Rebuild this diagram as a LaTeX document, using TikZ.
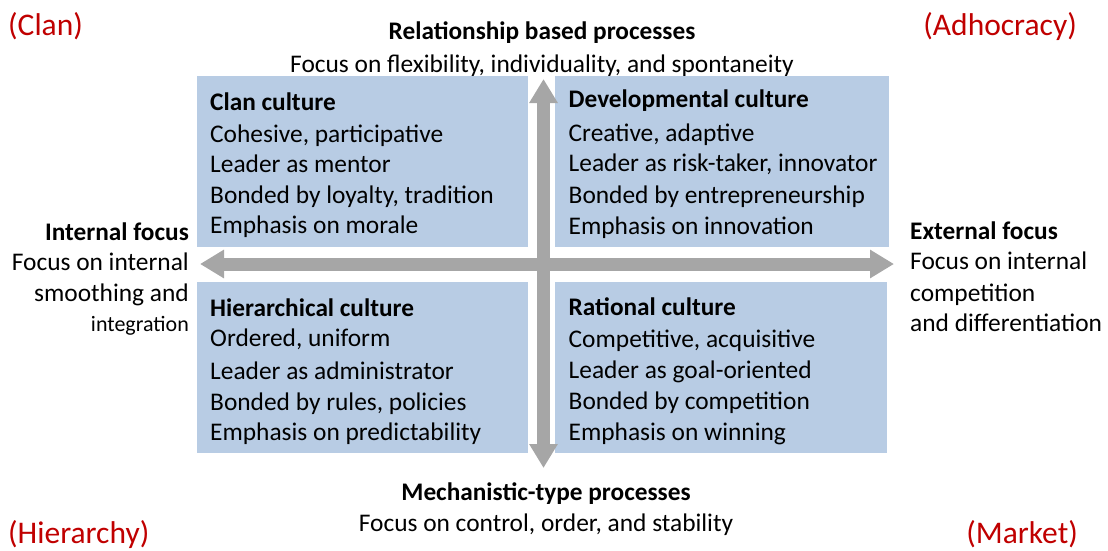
\documentclass[tikz,border=0pt]{standalone}
\usepackage{fontspec}
\setmainfont{Carlito}
\usetikzlibrary{arrows.meta}
\definecolor{boxblue}{RGB}{184,204,228}
\definecolor{arrowgray}{RGB}{166,166,166}
\definecolor{quadred}{RGB}{192,0,0}
\begin{document}
\begin{tikzpicture}[x=1pt,y=-1pt,
  txt/.style={inner sep=0pt, font=\fontsize{25.4}{30}\selectfont},
  ttl/.style={inner sep=0pt, font=\fontsize{25.3}{30}\selectfont\bfseries},
  small/.style={inner sep=0pt, font=\fontsize{22}{26}\selectfont},
  quad/.style={inner sep=0pt, text=quadred, font=\fontsize{31.5}{37}\selectfont},
  cbox/.style={fill=boxblue, draw=none, inner sep=0pt, anchor=north west, minimum height=171pt},
  axis/.style={draw=arrowgray, line width=13pt, {Triangle[width=27pt,length=24pt]}-{Triangle[width=27pt,length=24pt]}}]
\useasboundingbox (0,0) rectangle (1108,551);

% quadrant names
\node[quad, anchor=base west] (qclan) at (8,36) {(Clan)};
\node[quad, anchor=base east] (qadh) at (1077,36) {(Adhocracy)};
\node[quad, anchor=base west] (qhier) at (8,543.5) {(Hierarchy)};
\node[quad, anchor=base east] (qmark) at (1078,543.5) {(Market)};

% axis labels
\node[ttl, anchor=base] (toptitle) at (542,40) {Relationship based processes};
\node[txt, anchor=base] (toptext) at (542,72.5) {Focus on flexibility, individuality, and spontaneity};
\node[ttl, anchor=base] (bottitle) at (546,500) {Mechanistic-type processes};
\node[txt, anchor=base] (bottext) at (546,531.5) {Focus on control, order, and stability};

\node[ttl, anchor=base east] (lefttitle) at (189,240.5) {Internal focus};
\node[txt, anchor=base east] (left1) at (189,270.5) {Focus on internal};
\node[txt, anchor=base east] (left2) at (189,301.5) {smoothing and};
\node[small, anchor=base east] (left3) at (189,331.5) {integration};

\node[ttl, anchor=base west] (righttitle) at (910,239.5) {External focus};
\node[txt, anchor=base west] (right1) at (910,269.5) {Focus on internal};
\node[txt, anchor=base west] (right2) at (910,301.5) {competition};
\node[txt, anchor=base west] (right3) at (910,331.5) {and differentiation};

% boxes
\node[cbox, minimum width=331pt] (clanbox) at (197,76) {};
\node[cbox, minimum width=334pt] (devbox) at (555,76) {};
\node[cbox, minimum width=331pt] (hierbox) at (197,282) {};
\node[cbox, minimum width=332pt] (ratbox) at (555,282) {};

% clan culture
\node[ttl, anchor=base west] (c0) at (210,110) {Clan culture};
\node[txt, anchor=base west] (c1) at (210,142.5) {Cohesive, participative};
\node[txt, anchor=base west] (c2) at (210,172) {Leader as mentor};
\node[txt, anchor=base west] (c3) at (210,203) {Bonded by loyalty, tradition};
\node[txt, anchor=base west] (c4) at (210,233) {Emphasis on morale};

% developmental culture
\node[ttl, anchor=base west] (d0) at (568.5,107.5) {Developmental culture};
\node[txt, anchor=base west] (d1) at (568.5,141.7) {Creative, adaptive};
\node[txt, anchor=base west] (d2) at (568.5,171.7) {Leader as risk-taker, innovator};
\node[txt, anchor=base west] (d3) at (568.5,203.3) {Bonded by entrepreneurship};
\node[txt, anchor=base west] (d4) at (568.5,234) {Emphasis on innovation};

% hierarchical culture
\node[ttl, anchor=base west] (h0) at (210,316.5) {Hierarchical culture};
\node[txt, anchor=base west] (h1) at (210,346.7) {Ordered, uniform};
\node[txt, anchor=base west] (h2) at (210,379) {Leader as administrator};
\node[txt, anchor=base west] (h3) at (210,410.5) {Bonded by rules, policies};
\node[txt, anchor=base west] (h4) at (210,440) {Emphasis on predictability};

% rational culture
\node[ttl, anchor=base west] (r0) at (568.5,315) {Rational culture};
\node[txt, anchor=base west] (r1) at (568.5,347) {Competitive, acquisitive};
\node[txt, anchor=base west] (r2) at (568.5,378.5) {Leader as goal-oriented};
\node[txt, anchor=base west] (r3) at (568.5,409.5) {Bonded by competition};
\node[txt, anchor=base west] (r4) at (568.5,440) {Emphasis on winning};

% axes
\coordinate (vtop) at (543.5,79);
\coordinate (vbot) at (543.5,468);
\coordinate (hleft) at (200,264);
\coordinate (hright) at (894,264);
\draw[axis] (vtop) -- (vbot);
\draw[axis] (hleft) -- (hright);
\end{tikzpicture}
\end{document}
